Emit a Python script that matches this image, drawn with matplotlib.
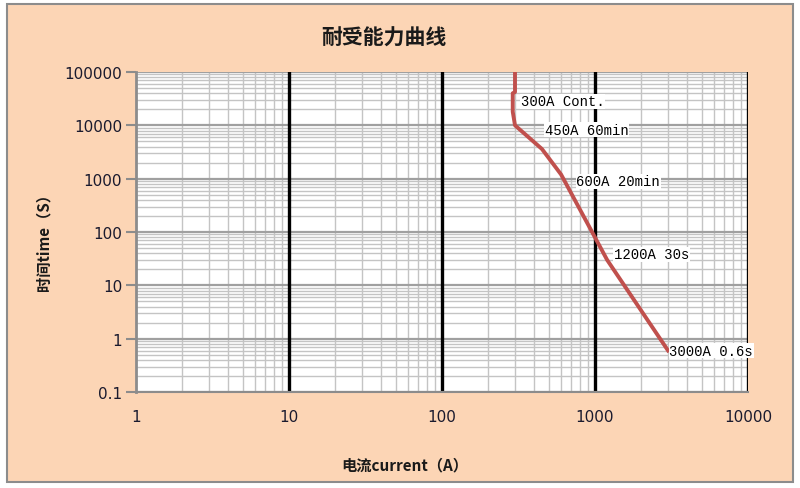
import matplotlib
matplotlib.use("Agg")
import matplotlib.pyplot as plt
from matplotlib.patches import Rectangle
from matplotlib.ticker import LogLocator, FixedLocator, NullFormatter

# данные кривой (ток, A / время, s)
current = [300, 300, 290, 290, 300, 450, 600, 1200, 3000]
time_s = [100000, 42000, 40000, 18000, 10000, 3600, 1200, 30, 0.6]

# подписи точек
label_current = [300, 450, 600, 1200, 3000]
label_time = [28000, 3600, 1200, 30, 0.6]
label_text = ["300A Cont.", "450A 60min", "600A 20min", "1200A 30s", "3000A 0.6s"]
label_offset = [(4, 0), (2, 14), (11, -5), (5, 4), (1, 0)]

x_ticks = [1, 10, 100, 1000, 10000]
x_tick_labels = ["1", "10", "100", "1000", "10000"]
y_ticks = [0.1, 1, 10, 100, 1000, 10000, 100000]
y_tick_labels = ["0.1", "1", "10", "100", "1000", "10000", "100000"]

CJK = ["Noto Sans CJK SC", "DejaVu Sans"]
peach = "#FCD5B5"

fig = plt.figure(figsize=(8, 4.89), dpi=100, facecolor="white")
fig.patches.append(Rectangle((7 / 800, 6 / 489), 786 / 800, 478 / 489,
                             transform=fig.transFigure, facecolor=peach,
                             edgecolor="#8C8C8C", linewidth=1.5, zorder=-5))

ax = fig.add_axes([0.17, 0.1963, 0.765, 0.6544])
ax.set_zorder(2)
ax.set_facecolor("white")
ax.set_xscale("log")
ax.set_yscale("log")
ax.set_xlim(1, 10000)
ax.set_ylim(0.1, 100000)

# сетка
ax.xaxis.set_minor_locator(LogLocator(base=10, subs=range(2, 10), numticks=20))
ax.yaxis.set_minor_locator(LogLocator(base=10, subs=range(2, 10), numticks=20))
ax.xaxis.set_minor_formatter(NullFormatter())
ax.yaxis.set_minor_formatter(NullFormatter())
ax.xaxis.set_major_locator(FixedLocator(x_ticks))
ax.yaxis.set_major_locator(FixedLocator(y_ticks))
ax.set_xticklabels(x_tick_labels)
ax.set_yticklabels(y_tick_labels)

ax.grid(True, which="minor", axis="both", color="#C4C4C4", linewidth=1.0)
ax.grid(True, which="major", axis="y", color="#A0A0A0", linewidth=1.6)
ax.set_axisbelow(True)
# жирные вертикальные линии по декадам (поверх серой сетки)
for xv in x_ticks[1:]:
    ax.axvline(xv, color="black", linewidth=2.4, zorder=1.5)

for side in ["top", "right"]:
    ax.spines[side].set_visible(False)
ax.spines["left"].set_color("#8C8C8C")
ax.spines["left"].set_linewidth(2)
ax.spines["bottom"].set_color("#8C8C8C")
ax.spines["bottom"].set_linewidth(1.5)

ax.tick_params(axis="y", which="major", length=7, width=1.5, color="#8C8C8C",
               labelsize=11, labelcolor="#1A1A2E", pad=3)
ax.tick_params(axis="x", which="major", length=0, labelsize=11,
               labelcolor="#1A1A2E", pad=12)
ax.tick_params(which="minor", length=0)

ax.plot(current, time_s, color="#C0504D", linewidth=2.8, solid_joinstyle="round", zorder=3)

for xv, yv, txt, off in zip(label_current, label_time, label_text, label_offset):
    ax.annotate(txt, (xv, yv), xytext=off, textcoords="offset points",
                ha="left", va="center", fontsize=10, family="Liberation Mono",
                color="black", zorder=4,
                bbox=dict(boxstyle="square,pad=0.05", facecolor="white", edgecolor="none"))

fig.text(0.48, 0.922, "耐受能力曲线", ha="center", va="center", fontsize=15,
         fontweight="bold", family=CJK, color="#1A1A1A")
fig.text(0.506, 0.049, "电流current（A）", ha="center", va="center", fontsize=11,
         fontweight="bold", family=CJK, color="#1A1A1A")
fig.text(0.054, 0.513, "时间time（S）", ha="center", va="center", fontsize=11,
         fontweight="bold", family=CJK, color="#1A1A1A", rotation=90)

fig.savefig("out.png", dpi=100, facecolor=fig.get_facecolor())
